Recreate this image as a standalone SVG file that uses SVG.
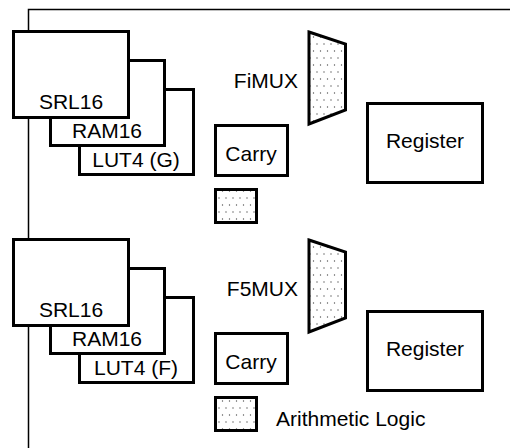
<svg xmlns="http://www.w3.org/2000/svg" width="510" height="448" viewBox="0 0 510 448">
<style>
.box{fill:#fff;stroke:#000;stroke-width:3}
.frame{fill:none;stroke:#000;stroke-width:1.5}
text{font-family:"Liberation Sans",Arial,Helvetica,sans-serif;font-size:21px;fill:#000}
.dot{fill:url(#dots);stroke:#000;stroke-width:3;stroke-linejoin:miter}
</style>
<defs>
<pattern id="dots" patternUnits="userSpaceOnUse" width="7" height="14">
<rect width="7" height="14" fill="#fff"/>
<circle cx="2" cy="2" r="0.7" fill="#555"/>
<circle cx="5.5" cy="9" r="0.7" fill="#555"/>
</pattern>
</defs>
<g id="frame"><path class="frame" d="M28.5,448 V9.5 H510"/></g>
<g id="connectors"></g>
<g id="lut4g"><rect class="box" x="79.5" y="89.5" width="114" height="85"/><text x="136" y="167" text-anchor="middle">LUT4 (G)</text></g>
<g id="ram16g"><rect class="box" x="50.5" y="60.5" width="114" height="85"/><text x="107" y="138" text-anchor="middle">RAM16</text></g>
<g id="srl16g"><rect class="box" x="13.5" y="31.5" width="115" height="86"/><text x="71" y="109" text-anchor="middle">SRL16</text></g>
<g id="fimux"><polygon class="dot" points="309,32 345.5,44 345.5,110 309,124"/><text x="298" y="88" text-anchor="end">FiMUX</text></g>
<g id="carryg"><rect class="box" x="215.5" y="125.5" width="72" height="50"/><text x="251" y="161" text-anchor="middle">Carry</text></g>
<g id="arithg"><rect class="dot" x="215.5" y="189.5" width="41" height="33"/></g>
<g id="regg"><rect class="box" x="367.5" y="103.5" width="115" height="79"/><text x="425" y="148" text-anchor="middle">Register</text></g>
<g id="lut4f"><rect class="box" x="79.5" y="297.5" width="114" height="85"/><text x="136" y="375" text-anchor="middle">LUT4 (F)</text></g>
<g id="ram16f"><rect class="box" x="50.5" y="268.5" width="114" height="85"/><text x="107" y="346" text-anchor="middle">RAM16</text></g>
<g id="srl16f"><rect class="box" x="13.5" y="239.5" width="115" height="86"/><text x="71" y="317" text-anchor="middle">SRL16</text></g>
<g id="f5mux"><polygon class="dot" points="309,240 345.5,252 345.5,318 309,332"/><text x="298" y="296" text-anchor="end">F5MUX</text></g>
<g id="carryf"><rect class="box" x="215.5" y="333.5" width="72" height="50"/><text x="251" y="369" text-anchor="middle">Carry</text></g>
<g id="arithf"><rect class="dot" x="215.5" y="397.5" width="41" height="33"/><text x="276" y="426">Arithmetic Logic</text></g>
<g id="regf"><rect class="box" x="367.5" y="311.5" width="115" height="79"/><text x="425" y="356" text-anchor="middle">Register</text></g>
</svg>
